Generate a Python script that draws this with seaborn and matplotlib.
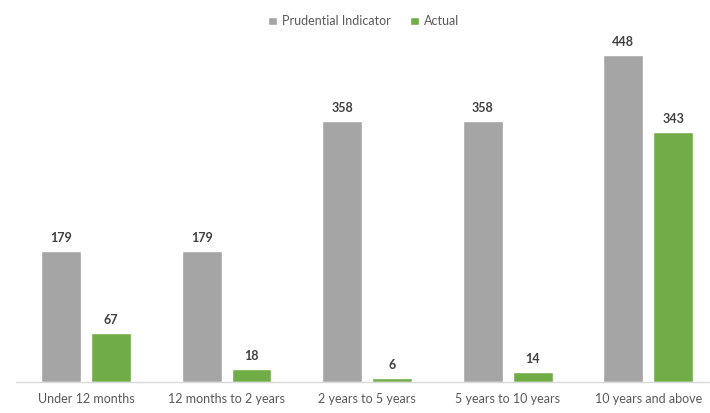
import matplotlib
matplotlib.use("Agg")
import matplotlib.pyplot as plt
import seaborn as sns
import pandas as pd

categories = ["Under 12 months", "12 months to 2 years", "2 years to 5 years",
              "5 years to 10 years", "10 years and above"]
prudential = [179, 179, 358, 358, 448]
actual = [67, 18, 6, 14, 343]
series_names = ["Prudential Indicator", "Actual"]

df = pd.DataFrame({
    "category": categories * 2,
    "value": prudential + actual,
    "series": [series_names[0]] * len(categories) + [series_names[1]] * len(categories),
})

sns.set_theme(style="white")
plt.rcParams["font.family"] = ["Lato", "DejaVu Sans"]

fig = plt.figure(figsize=(7.1, 4.13), dpi=100)
ax = fig.add_axes([0.0222, 0.075, 0.9898, 0.855])

palette = {series_names[0]: "#A5A5A5", series_names[1]: "#70AD47"}
sns.barplot(data=df, x="category", y="value", hue="series", order=categories,
            hue_order=series_names, palette=palette, width=0.71, gap=0.2,
            saturation=1, ax=ax, legend=True)

for cont in ax.containers:
    ax.bar_label(cont, fmt="%d", padding=5, fontsize=9, fontweight="bold", color="#404040")

ax.set_xlim(-0.5, 4.5)
ax.set_ylim(0, 484)
ax.set_xlabel("")
ax.set_ylabel("")
ax.set_yticks([])
for s in ["top", "right", "left"]:
    ax.spines[s].set_visible(False)
ax.spines["bottom"].set_color("#D9D9D9")
ax.spines["bottom"].set_linewidth(1)
ax.tick_params(axis="x", length=0, pad=8, labelsize=9, labelcolor="#595959")

leg = ax.legend(loc="upper center", bbox_to_anchor=(0.495, 1.07), ncol=2, frameon=False,
                fontsize=9, handlelength=0.7, handleheight=0.7, handletextpad=0.4,
                columnspacing=1.6, labelcolor="#595959")

fig.savefig("out.png", dpi=100)
